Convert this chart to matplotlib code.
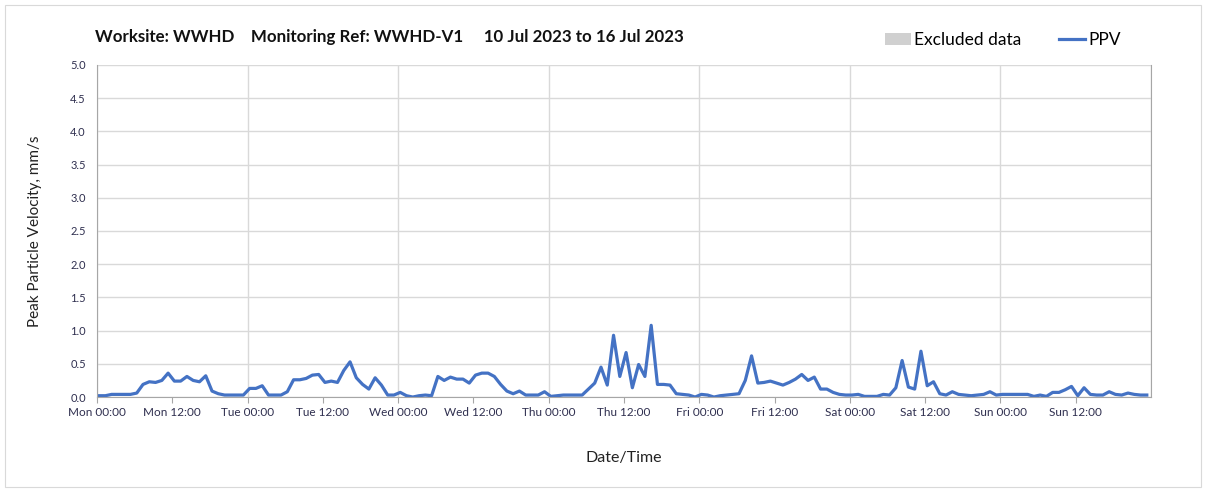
import numpy as np
import pandas as pd
import matplotlib
matplotlib.use("Agg")
import matplotlib.pyplot as plt
import matplotlib.dates as mdates
from matplotlib.patches import Rectangle
from matplotlib.lines import Line2D

plt.rcParams['font.family'] = ['Lato', 'DejaVu Sans']

# hourly PPV readings (mm/s), one list per day
mon = [0.02, 0.02, 0.04, 0.04, 0.04, 0.04, 0.06, 0.19, 0.23, 0.22, 0.25, 0.36,
       0.24, 0.24, 0.31, 0.25, 0.23, 0.32, 0.09, 0.05, 0.03, 0.03, 0.03, 0.03]
tue = [0.13, 0.13, 0.17, 0.03, 0.03, 0.03, 0.08, 0.26, 0.26, 0.28, 0.33, 0.34,
       0.22, 0.24, 0.22, 0.40, 0.53, 0.29, 0.19, 0.12, 0.29, 0.18, 0.03, 0.03]
wed = [0.07, 0.02, 0.00, 0.02, 0.03, 0.02, 0.31, 0.25, 0.30, 0.27, 0.27, 0.21,
       0.33, 0.36, 0.36, 0.31, 0.19, 0.09, 0.05, 0.09, 0.03, 0.03, 0.03, 0.08]
thu = [0.01, 0.02, 0.03, 0.03, 0.03, 0.03, 0.12, 0.21, 0.45, 0.18, 0.93, 0.31,
       0.67, 0.14, 0.49, 0.31, 1.08, 0.19, 0.19, 0.18, 0.05, 0.04, 0.03, 0.00]
fri = [0.04, 0.03, 0.00, 0.02, 0.03, 0.04, 0.05, 0.25, 0.62, 0.21, 0.22, 0.24,
       0.21, 0.18, 0.22, 0.27, 0.34, 0.25, 0.30, 0.12, 0.12, 0.07, 0.04, 0.03]
sat = [0.03, 0.04, 0.01, 0.01, 0.01, 0.04, 0.03, 0.14, 0.55, 0.15, 0.12, 0.69,
       0.17, 0.23, 0.05, 0.03, 0.08, 0.04, 0.03, 0.02, 0.03, 0.04, 0.08, 0.03]
sun = [0.04, 0.04, 0.04, 0.04, 0.04, 0.01, 0.03, 0.01, 0.07, 0.07, 0.11, 0.16,
       0.02, 0.14, 0.04, 0.03, 0.03, 0.08, 0.04, 0.03, 0.06, 0.04, 0.03, 0.03]

ppv = mon + tue + wed + thu + fri + sat + sun
times = pd.date_range('2023-07-10 00:20', periods=len(ppv), freq='h')
x_start = pd.Timestamp('2023-07-10 00:00')
x_end = pd.Timestamp('2023-07-17 00:00')
label_ticks = pd.date_range(x_start, periods=14, freq='12h')

title = "Worksite: WWHD    Monitoring Ref: WWHD-V1     10 Jul 2023 to 16 Jul 2023"

fig = plt.figure(figsize=(12.08, 4.92), dpi=100)
fig.patches.append(Rectangle((0.004, 0.01), 0.99, 0.98, transform=fig.transFigure,
                             fill=False, edgecolor='#d9d9d9', linewidth=0.8))

ax = fig.add_axes([0.0803, 0.193, 0.8725, 0.675])
ax.plot(times, ppv, color='#4472C4', linewidth=2.3, solid_joinstyle='round')

ax.set_xlim(x_start, x_end)
ax.set_ylim(0, 5.0)
ax.set_yticks(np.arange(0, 5.01, 0.5))
ax.yaxis.set_major_formatter(plt.FormatStrFormatter('%.1f'))

ax.set_xticks(label_ticks)
ax.xaxis.set_major_formatter(mdates.DateFormatter('%a %H:%M'))
ax.xaxis.set_minor_locator(mdates.DayLocator())
ax.xaxis.remove_overlapping_locs = False

ax.grid(axis='y', color='#d9d9d9', linewidth=1.0)
ax.grid(axis='x', which='minor', color='#d9d9d9', linewidth=1.0)
ax.set_axisbelow(True)

for side in ['left', 'bottom', 'right']:
    ax.spines[side].set_color('#a6a6a6')
ax.spines['top'].set_visible(False)
ax.tick_params(axis='x', which='major', length=4, color='#a6a6a6',
               labelsize=8.5, labelcolor='#2f2f4f', pad=3)
ax.tick_params(axis='x', which='minor', length=0)
ax.tick_params(axis='y', length=0, labelsize=8, labelcolor='#2f2f4f', pad=8)

ax.set_ylabel('Peak Particle Velocity, mm/s', fontsize=11, color='#222222', labelpad=20)
ax.set_xlabel('Date/Time', fontsize=11.5, color='#222222', labelpad=24)

fig.text(0.079, 0.925, title, fontsize=12.2, fontweight='bold', color='#111111',
         ha='left', va='center')

handles = [Rectangle((0, 0), 1, 1, facecolor='#d0d0d0', edgecolor='none'),
           Line2D([0], [0], color='#4472C4', linewidth=2.3)]
fig.legend(handles, ['Excluded data', 'PPV'], loc='center right',
           bbox_to_anchor=(0.9405, 0.918), ncol=2, frameon=False, fontsize=12.5,
           handlelength=1.5, handletextpad=0.15, columnspacing=2.2)

fig.savefig('out.png', dpi=100, facecolor='white')
